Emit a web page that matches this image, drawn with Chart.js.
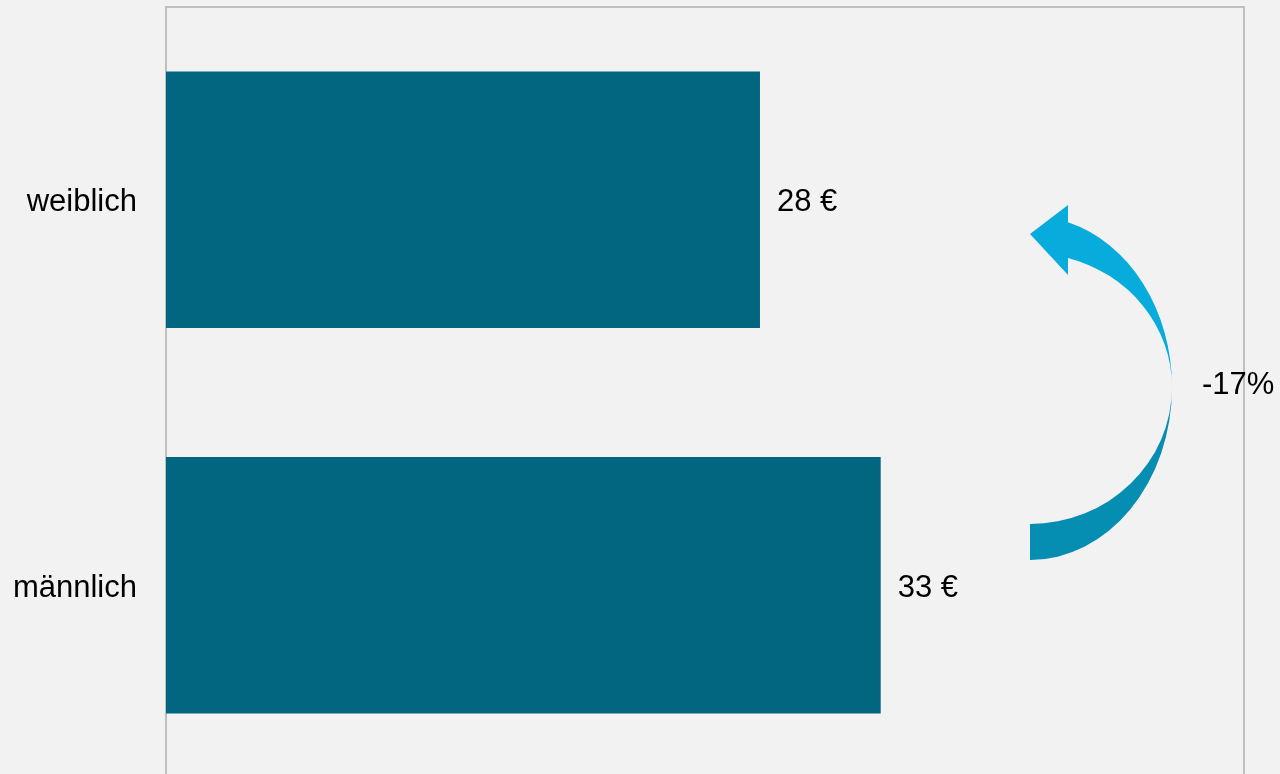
<!DOCTYPE html>
<html>
<head>
<meta charset="utf-8">
<script src="https://cdn.jsdelivr.net/npm/chart.js@4.4.1/dist/chart.umd.min.js"></script>
<style>
    html, body { margin: 0; padding: 0; background: #f2f2f2; overflow: hidden; }
    #wrap { position: relative; width: 1280px; height: 778px; }
</style>
</head>
<body>
<div id="wrap"><canvas id="myChart"></canvas></div>
<script>
// data
const kategorien = ['weiblich', 'männlich'];
const stundenlohn = [27.55, 33.15];
const xMax = 50;

const fontName = '"Liberation Sans", Arial, sans-serif';

// Rahmen um den Plotbereich (unten ausserhalb vom Bild)
const rahmen = {
    id: 'rahmen',
    beforeDatasetsDraw(chart) {
        const { ctx, chartArea } = chart;
        ctx.save();
        ctx.strokeStyle = '#bfbfbf';
        ctx.lineWidth = 2;
        ctx.strokeRect(chartArea.left, chartArea.top, chartArea.right - chartArea.left, chartArea.bottom - chartArea.top);
        ctx.restore();
    }
};

// Werte neben den Balken + Pfeil mit Differenz
const beschriftung = {
    id: 'beschriftung',
    afterDatasetsDraw(chart) {
        const { ctx, chartArea } = chart;
        const meta = chart.getDatasetMeta(0);
        ctx.save();
        ctx.font = '31px ' + fontName;
        ctx.fillStyle = '#000000';
        ctx.textBaseline = 'middle';
        ctx.textAlign = 'left';
        meta.data.forEach((bar, i) => {
            ctx.fillText(Math.round(stundenlohn[i]) + ' €', bar.x + 17, bar.y + 3);
        });

        // Pfeil
        const cx = chartArea.left + 864;
        const cy = chartArea.top + 380;
        const rx = 142;
        const a = Math.acos(38 / rx);

        // unterer Teil (dunkler)
        ctx.fillStyle = '#058db2';
        ctx.beginPath();
        ctx.moveTo(cx + rx, cy);
        ctx.ellipse(cx, cy, rx, 173, 0, 0, Math.PI / 2, false);
        ctx.lineTo(cx, cy + 137);
        ctx.ellipse(cx, cy, rx, 137, 0, Math.PI / 2, 0, true);
        ctx.closePath();
        ctx.fill();

        // oberer Teil mit Spitze
        ctx.fillStyle = '#07acdc';
        ctx.beginPath();
        ctx.moveTo(cx + rx, cy);
        ctx.ellipse(cx, cy, rx, 171, 0, 0, -a, true);
        ctx.lineTo(cx + 38, cy - 182);
        ctx.lineTo(cx, cy - 153);
        ctx.lineTo(cx + 38, cy - 112);
        ctx.lineTo(cx + 38, cy - 129);
        ctx.ellipse(cx, cy, rx, 134, 0, -a, 0, false);
        ctx.closePath();
        ctx.fill();

        const diff = Math.round((stundenlohn[0] / stundenlohn[1] - 1) * 100);
        ctx.fillStyle = '#000000';
        ctx.fillText(diff + '%', chartArea.left + 1036, cy - 2);
        ctx.restore();
    }
};

const data = {
    labels: kategorien,
    datasets: [{
        data: stundenlohn,
        backgroundColor: '#026680',
        borderWidth: 0,
        categoryPercentage: 1,
        barPercentage: 0.665
    }]
};

const config = {
    type: 'bar',
    data,
    options: {
        indexAxis: 'y',
        responsive: true,
        maintainAspectRatio: false,
        animation: false,
        layout: {
            padding: { top: 7, right: 36, bottom: 0, left: 0 }
        },
        plugins: {
            legend: { display: false },
            tooltip: { enabled: false }
        },
        scales: {
            x: {
                display: false,
                min: 0,
                max: xMax
            },
            y: {
                grid: { display: false, drawTicks: false },
                border: { display: false },
                ticks: {
                    color: '#000000',
                    padding: 29,
                    labelOffset: 3,
                    font: { family: fontName, size: 31 }
                },
                afterFit(scale) {
                    scale.width = 166;
                    scale.paddingTop = 0;
                    scale.paddingBottom = 0;
                }
            }
        }
    },
    plugins: [rahmen, beschriftung]
};

const myChart = new Chart(document.getElementById('myChart'), config);
</script>
</body>
</html>
